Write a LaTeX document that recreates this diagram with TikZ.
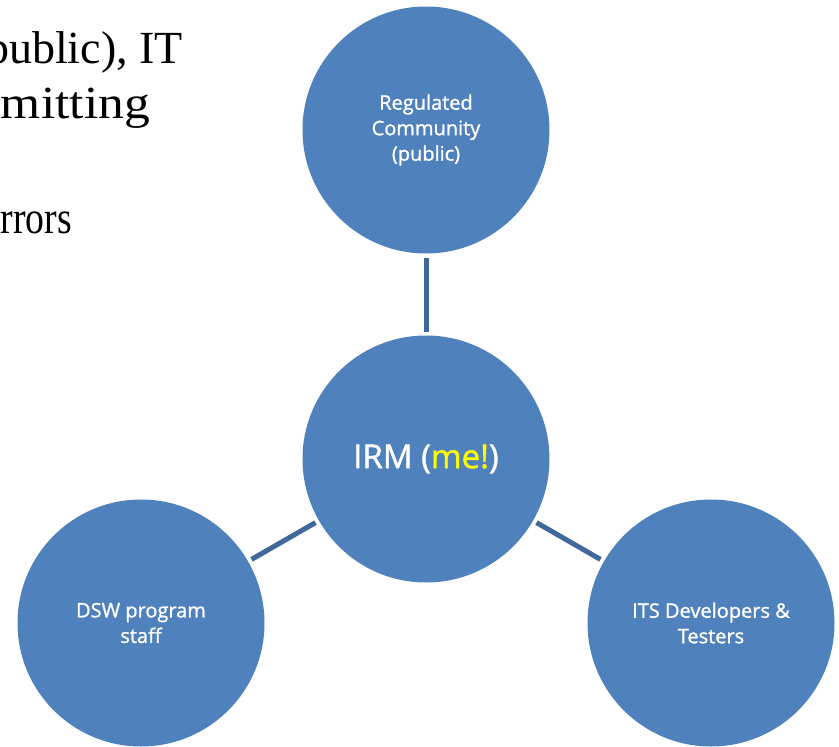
\documentclass[tikz,border=0pt]{standalone}
\usepackage{fontspec}
\setmainfont{Liberation Serif}
\newfontfamily\circfont[FakeBold=1.2]{Open Sans}
\definecolor{circblue}{HTML}{4F81BD}
\definecolor{linkblue}{HTML}{41689A}
\definecolor{meyellow}{HTML}{FFFF00}
\begin{document}
\begin{tikzpicture}[x=1pt,y=-1pt,
  role/.style={circle,fill=circblue,minimum size=247pt,inner sep=0pt,outer sep=4pt,
    text=white,align=center,font=\circfont\fontsize{20}{25.5}\selectfont},
  link/.style={draw=linkblue,line width=5pt},
  slide/.style={anchor=base east,inner sep=0pt,font=\fontsize{46}{55}\selectfont}]

% Slide text behind the diagram

\useasboundingbox (0,0) rectangle (839,747);
\clip (0,0) rectangle (839,747);

\node[slide] (line1) at (183,63) {public), IT};
\node[slide] (line2) at (150,118) {\scalebox{1.12}[1]{mitting}};
\node[slide] (line3) at (72,233) {\scalebox{0.82}[1]{rrors}};

% Roles round IRM

\begin{scope}
\node[role,font=\circfont\fontsize{33}{40}\selectfont] (irm) at (426,459)
  {IRM (\textcolor{meyellow}{me!})};
\node[role] (pub) at (426,130) {Regulated\\Community\\(public)};
\node[role] (dsw) at (141,623) {DSW program\\staff};
\node[role] (its) at (711,623) {ITS Developers \&\\Testers};

\foreach \n in {pub, dsw, its}
{
\draw[link] (irm) -- (\n);
}
\end{scope}

\end{tikzpicture}
\end{document}
